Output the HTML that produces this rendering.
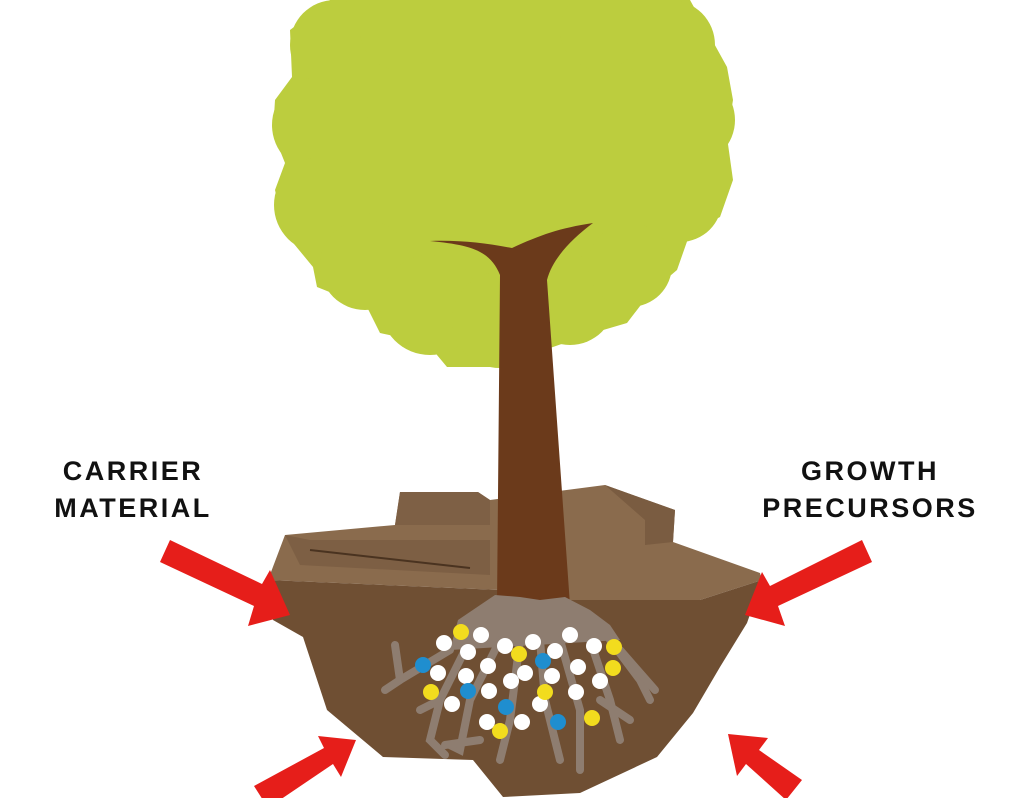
<!DOCTYPE html>
<html><head><meta charset="utf-8"><style>
html,body{margin:0;padding:0;background:#fff;}
svg{display:block}
text{font-family:"Liberation Sans",sans-serif;font-weight:bold;font-size:27px;fill:#111;letter-spacing:2.5px}
</style></head><body>
<svg width="1024" height="798" viewBox="0 0 1024 798">
<!-- canopy -->
<g fill="#bccd3e">
<polygon points="330,0 690,0 727,67 733,100 727,137 733,180 720,217 690,233 677,270 650,293 627,323 593,333 553,347 493,367 447,367 427,343 380,333 367,307 317,287 313,267 285,233 275,190 285,163 273,133 275,100 292,77 290,30"/>
<circle cx="335" cy="45" r="45"/><circle cx="320" cy="125" r="48"/><circle cx="322" cy="205" r="48"/>
<circle cx="365" cy="265" r="45"/><circle cx="430" cy="305" r="50"/><circle cx="500" cy="320" r="48"/>
<circle cx="570" cy="300" r="45"/><circle cx="630" cy="265" r="42"/><circle cx="680" cy="200" r="42"/>
<circle cx="690" cy="120" r="45"/><circle cx="670" cy="45" r="45"/><circle cx="400" cy="30" r="40"/><circle cx="600" cy="30" r="40"/>
</g>
<!-- soil top faces -->
<polygon points="285,535 395,525 400,492 478,492 490,500 605,485 675,510 673,542 760,573 762,580 700,600 560,600 500,590 268,580" fill="#8a6b4d"/>
<polygon points="395,525 400,492 478,492 490,500 490,525" fill="#7e6045"/>
<polygon points="605,485 675,510 673,542 645,545 645,520" fill="#7a5c41"/>
<polygon points="285,535 300,565 490,575 490,540 310,540" fill="#7d5f44"/>
<line x1="310" y1="550" x2="470" y2="568" stroke="#4a3320" stroke-width="2"/>
<!-- soil front -->
<polygon points="268,580 273,620 303,637 327,710 383,757 473,760 503,797 580,793 657,757 693,713 720,667 747,623 762,580 700,600 560,600 500,590" fill="#6f4f33"/>
<!-- trunk -->
<path d="M430,241 C470,245 490,250 500,275 L497,605 L570,605 L547,280 C552,260 570,240 593,223 C560,228 540,235 512,248 C485,243 460,240 430,241 Z" fill="#6b3a1b"/>
<!-- roots -->
<g fill="#8e7d70" stroke="#8e7d70" stroke-linecap="round">
<polygon points="458,620 495,595 520,597 540,600 565,597 590,610 610,625 620,640 450,650" stroke="none"/>
<g stroke-width="8" fill="none">
<path d="M450,650 L400,680 L385,690"/><path d="M400,680 L395,645"/>
<path d="M470,640 L440,700 L430,740 L445,755"/><path d="M440,700 L420,710"/>
<path d="M500,640 L470,700 L460,750 L450,745"/>
<path d="M520,640 L510,720 L500,760"/><path d="M540,640 L545,700 L560,760"/>
<path d="M560,640 L580,710 L580,770"/><path d="M590,640 L610,700 L620,740"/>
<path d="M610,640 L640,680 L650,700"/><path d="M620,650 L655,690"/>
<path d="M480,740 L445,745"/><path d="M600,700 L630,720"/>
</g></g>
<!-- pellets -->
<g fill="#fff">
<circle cx="444" cy="643" r="8"/><circle cx="481" cy="635" r="8"/><circle cx="468" cy="652" r="8"/>
<circle cx="505" cy="646" r="8"/><circle cx="533" cy="642" r="8"/><circle cx="555" cy="651" r="8"/>
<circle cx="570" cy="635" r="8"/><circle cx="594" cy="646" r="8"/><circle cx="488" cy="666" r="8"/>
<circle cx="438" cy="673" r="8"/><circle cx="466" cy="676" r="8"/><circle cx="525" cy="673" r="8"/>
<circle cx="552" cy="676" r="8"/><circle cx="578" cy="667" r="8"/><circle cx="511" cy="681" r="8"/>
<circle cx="489" cy="691" r="8"/><circle cx="576" cy="692" r="8"/><circle cx="600" cy="681" r="8"/>
<circle cx="452" cy="704" r="8"/><circle cx="540" cy="704" r="8"/><circle cx="487" cy="722" r="8"/>
<circle cx="522" cy="722" r="8"/>
</g>
<g fill="#f2dc1e">
<circle cx="461" cy="632" r="8"/><circle cx="519" cy="654" r="8"/><circle cx="614" cy="647" r="8"/>
<circle cx="613" cy="668" r="8"/><circle cx="431" cy="692" r="8"/><circle cx="545" cy="692" r="8"/>
<circle cx="592" cy="718" r="8"/><circle cx="500" cy="731" r="8"/>
</g>
<g fill="#1f8ecf">
<circle cx="423" cy="665" r="8"/><circle cx="543" cy="661" r="8"/><circle cx="468" cy="691" r="8"/>
<circle cx="506" cy="707" r="8"/><circle cx="558" cy="722" r="8"/>
</g>
<!-- arrows -->
<g fill="#e61e1a">
<polygon points="160,562 170,540 262,584 270,570 290,615 248,626 254,606"/>
<polygon points="872,562 862,540 770,586 762,572 745,615 785,626 778,606"/>
<polygon points="254,786 268,808 333,764 341,777 356,740 318,736 324,748"/>
<polygon points="802,780 786,800 746,764 737,776 728,734 768,738 759,750"/>
</g>
<text x="133" y="480" text-anchor="middle">CARRIER</text>
<text x="133" y="517" text-anchor="middle">MATERIAL</text>
<text x="870" y="480" text-anchor="middle">GROWTH</text>
<text x="870" y="517" text-anchor="middle">PRECURSORS</text>
</svg>
</body></html>
